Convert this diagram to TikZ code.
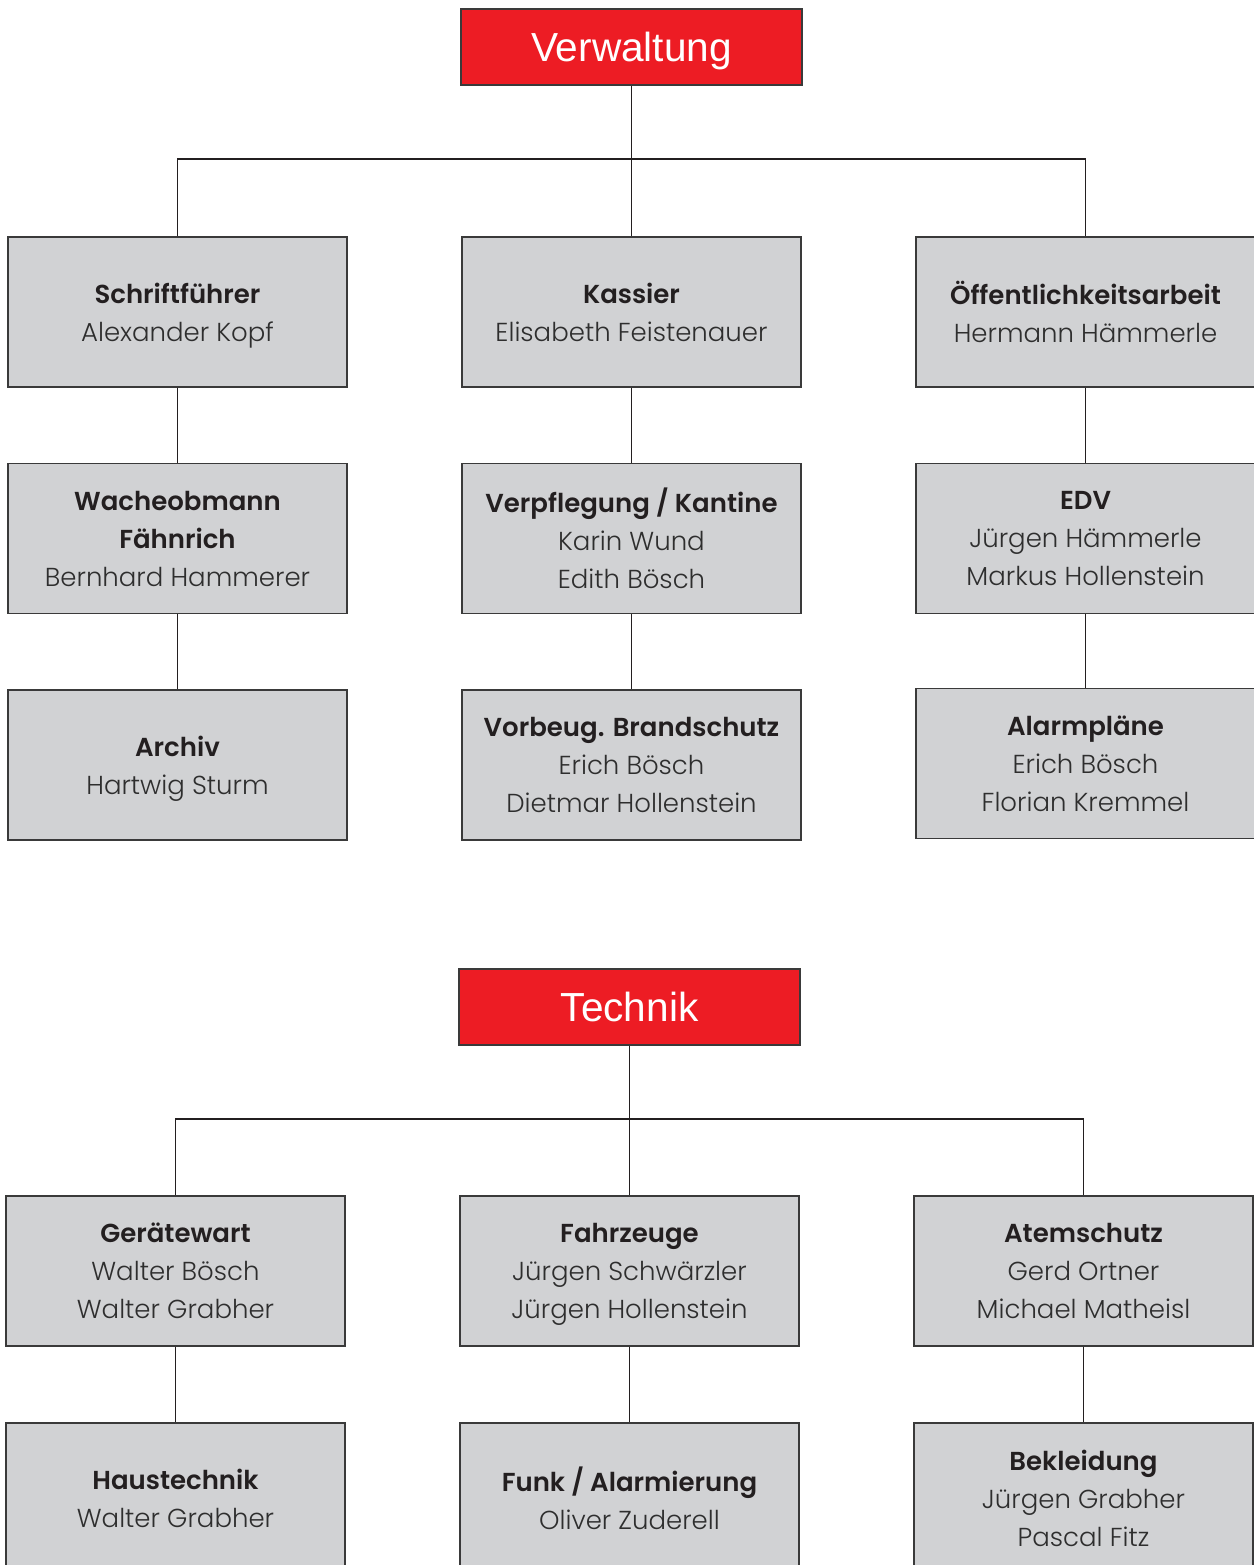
\documentclass[tikz,border=0pt]{standalone}
\usepackage{fontspec}
\setmainfont{Poppins}[UprightFont=* Light, BoldFont=* SemiBold]
\newfontfamily\titlefont{Liberation Sans}
\definecolor{boxgray}{HTML}{D1D2D4}
\definecolor{boxline}{HTML}{3A3A3A}
\definecolor{redbox}{HTML}{ED1C24}
\definecolor{txtdark}{HTML}{231F20}
\definecolor{txtname}{HTML}{2E2E2E}
\begin{document}
\begin{tikzpicture}[x=0.5pt,y=-0.5pt,
  unit/.style={draw=boxline, line width=0.7pt, fill=boxgray, minimum width=169.5pt, minimum height=75pt,
    inner sep=0pt, align=center, text=txtname, text depth=0pt, font=\fontsize{13}{19}\selectfont},
  headbox/.style={draw=boxline, line width=0.7pt, fill=redbox, minimum width=170.5pt, minimum height=38pt,
    inner sep=0pt, text=white, text height=14.5pt, text depth=0pt, font=\titlefont\fontsize{20.3}{24}\selectfont},
  conn/.style={draw=txtdark, line width=0.7pt}]
\useasboundingbox (0,0) rectangle (1254,1565);
\newcommand{\hd}[1]{{\bfseries\color{txtdark}#1}}
% Verwaltung
\node[headbox] (verw) at (631.5,47) {Verwaltung};
\node[unit] (schrift) at (177.5,312) {\hd{Schriftführer}\\Alexander Kopf};
\node[unit] (kassier) at (631.5,312) {\hd{Kassier}\\Elisabeth Feistenauer};
\node[unit] (oeff) at (1085.5,312) {\hd{Öffentlichkeitsarbeit}\\Hermann Hämmerle};
\node[unit] (wache) at (177.5,538.5) {\hd{Wacheobmann}\\\hd{Fähnrich}\\Bernhard Hammerer};
\node[unit] (verpf) at (631.5,538.5) {\hd{Verpflegung / Kantine}\\Karin Wund\\Edith Bösch};
\node[unit] (edv) at (1085.5,538.5) {\hd{EDV}\\Jürgen Hämmerle\\Markus Hollenstein};
\node[unit] (archiv) at (177.5,765) {\hd{Archiv}\\Hartwig Sturm};
\node[unit] (vorb) at (631.5,765) {\hd{Vorbeug. Brandschutz}\\Erich Bösch\\Dietmar Hollenstein};
\node[unit] (alarm) at (1085.5,763.5) {\hd{Alarmpläne}\\Erich Bösch\\Florian Kremmel};
\coordinate (vbar) at (631.5,159);
\draw[conn] (verw.south) -- (kassier.north);
\draw[conn] (schrift.north) |- (vbar) -| (oeff.north);
\draw[conn] (schrift.south) -- (wache.north);
\draw[conn] (wache.south) -- (archiv.north);
\draw[conn] (kassier.south) -- (verpf.north);
\draw[conn] (verpf.south) -- (vorb.north);
\draw[conn] (oeff.south) -- (edv.north);
\draw[conn] (edv.south) -- (alarm.north);
% Technik
\node[headbox] (tech) at (629.5,1007) {Technik};
\node[unit] (geraete) at (175.5,1271) {\hd{Gerätewart}\\Walter Bösch\\Walter Grabher};
\node[unit] (fahr) at (629.5,1271) {\hd{Fahrzeuge}\\Jürgen Schwärzler\\Jürgen Hollenstein};
\node[unit] (atem) at (1083.5,1271) {\hd{Atemschutz}\\Gerd Ortner\\Michael Matheisl};
\node[unit] (haus) at (175.5,1498) {\hd{Haustechnik}\\Walter Grabher};
\node[unit] (funk) at (629.5,1498) {\hd{Funk / Alarmierung}\\Oliver Zuderell};
\node[unit] (bekl) at (1083.5,1498) {\hd{Bekleidung}\\Jürgen Grabher\\Pascal Fitz};
\coordinate (tbar) at (629.5,1119);
\draw[conn] (tech.south) -- (fahr.north);
\draw[conn] (geraete.north) |- (tbar) -| (atem.north);
\draw[conn] (geraete.south) -- (haus.north);
\draw[conn] (fahr.south) -- (funk.north);
\draw[conn] (atem.south) -- (bekl.north);
\end{tikzpicture}
\end{document}
